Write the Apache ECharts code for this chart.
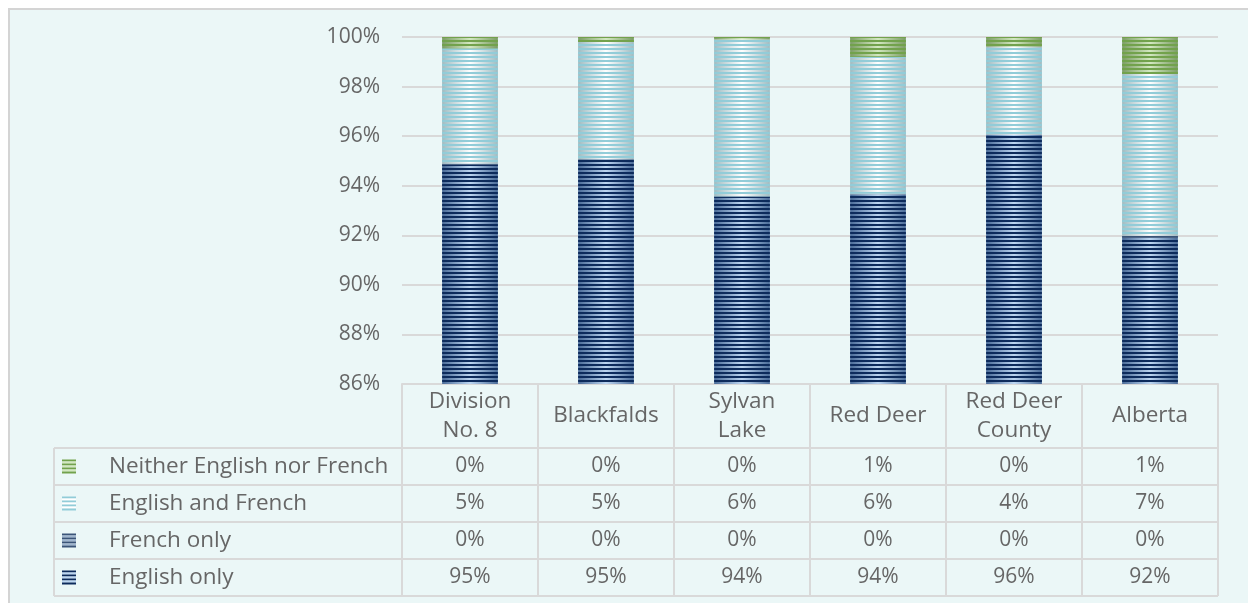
<!DOCTYPE html>
<html><head><meta charset="utf-8">
<script src="https://cdn.jsdelivr.net/npm/echarts@6/dist/echarts.min.js"></script>
<style>html,body{margin:0;padding:0;background:#ffffff;}#c{width:1248px;height:603px;}</style>
</head><body><div id="c"></div>
<script>
var categories = ['Division\nNo. 8', 'Blackfalds', 'Sylvan\nLake', 'Red Deer', 'Red Deer\nCounty', 'Alberta'];
var englishOnly = [94.85, 95.05, 93.55, 93.65, 96.05, 91.9];
var frenchOnly = [0.05, 0.03, 0.02, 0.03, 0.02, 0.08];
var englishAndFrench = [4.65, 4.72, 6.33, 5.52, 3.54, 6.53];
var neither = [0.45, 0.2, 0.1, 0.8, 0.39, 1.49];
var yTicks = [86, 88, 90, 92, 94, 96, 98, 100];

var FONT = '"Open Sans", Lato, sans-serif';
var TXT = '#666666';
var LINE = '#d9d9d9';

var seriesDefs = [
  {name: 'English only', data: englishOnly, edge: '#4a6b98', center: '#bcd6f2', stripe: '#0d2b5c'},
  {name: 'French only', data: frenchOnly, edge: '#55708f', center: '#9fb5cf', stripe: '#3b5478'},
  {name: 'English and French', data: englishAndFrench, edge: '#9fbcc2', center: '#ffffff', stripe: '#92ccd8'},
  {name: 'Neither English nor French', data: neither, edge: '#7c9d66', center: '#d3e8c1', stripe: '#72a24c'}
];

function grad(edge, center) {
  return new echarts.graphic.LinearGradient(0, 0, 1, 0, [
    {offset: 0, color: edge}, {offset: 0.5, color: center}, {offset: 1, color: edge}
  ]);
}

var chart = echarts.init(document.getElementById('c'), null, {renderer: 'canvas'});
var option = {
  backgroundColor: '#ffffff',
  animation: false,
  grid: {left: 402, right: 30, top: 37, bottom: 219, containLabel: false},
  xAxis: {
    type: 'category', data: categories,
    axisLine: {show: true, lineStyle: {color: LINE, width: 2}},
    axisTick: {show: false},
    axisLabel: {color: TXT, fontFamily: FONT, fontSize: 22.5, lineHeight: 29, margin: 32, verticalAlign: 'middle', interval: 0}
  },
  yAxis: {
    type: 'value', min: 86, max: 100, interval: 2,
    axisLine: {show: false}, axisTick: {show: false},
    splitLine: {lineStyle: {color: LINE, width: 2}},
    axisLabel: {color: TXT, fontFamily: FONT, fontSize: 21, margin: 22, formatter: '{value}%'}
  },
  series: seriesDefs.map(function (s) {
    return {
      name: s.name, type: 'bar', stack: 'total', data: s.data, barWidth: '41%',
      itemStyle: {
        color: grad(s.edge, s.center),
        decal: {symbol: 'rect', symbolSize: 1, symbolKeepAspect: false, color: s.stripe,
                dashArrayX: [1, 0], dashArrayY: [2, 2], rotation: 0}
      }
    };
  })
};
chart.setOption(option);

// ---- data table below the chart ----
var x0 = chart.convertToPixel({xAxisIndex: 0}, 0);
var x1 = chart.convertToPixel({xAxisIndex: 0}, 1);
var band = x1 - x0;
var axisY = chart.convertToPixel({yAxisIndex: 0}, 86);
var tableLeft = 54;
var colLeft = x0 - band / 2;
var colRight = colLeft + band * categories.length;
var headerBottom = axisY + 64;
var rowH = 37;
var rows = seriesDefs.slice().reverse();
var g = [];
g.push({type: 'rect', z: -10, silent: true, shape: {x: 9, y: 9, width: 1300, height: 700},
        style: {fill: '#ebf7f7', stroke: '#d4d4d4', lineWidth: 2}});
function hline(y, xa, xb) { g.push({type: 'line', z: 5, shape: {x1: xa, y1: y, x2: xb, y2: y}, style: {stroke: LINE, lineWidth: 2}}); }
function vline(x, ya, yb) { g.push({type: 'line', z: 5, shape: {x1: x, y1: ya, x2: x, y2: yb}, style: {stroke: LINE, lineWidth: 2}}); }
var tableBottom = headerBottom + rowH * rows.length;
for (var r = 0; r <= rows.length; r++) hline(headerBottom + r * rowH, tableLeft, colRight);
vline(tableLeft, headerBottom, tableBottom);
for (var c = 0; c <= categories.length; c++) vline(colLeft + c * band, axisY, tableBottom);

rows.forEach(function (s, ri) {
  var cy = headerBottom + ri * rowH + rowH / 2;
  for (var k = 0; k < 7; k++) {
    g.push({type: 'rect', z: 6, shape: {x: 62, y: cy - 7 + k * 2, width: 14, height: 2},
            style: {fill: k % 2 === 0 ? s.stripe : s.center}});
  }
  g.push({type: 'text', z: 6, x: 109, y: cy, style: {text: s.name, fill: TXT, font: '22.5px ' + FONT, verticalAlign: 'middle', align: 'left'}});
  s.data.forEach(function (v, ci) {
    var cx = chart.convertToPixel({xAxisIndex: 0}, ci);
    g.push({type: 'text', z: 6, x: cx, y: cy, style: {text: Math.round(v) + '%', fill: TXT, font: '21px ' + FONT, verticalAlign: 'middle', align: 'center'}});
  });
});
chart.setOption({graphic: g});
</script></body></html>
